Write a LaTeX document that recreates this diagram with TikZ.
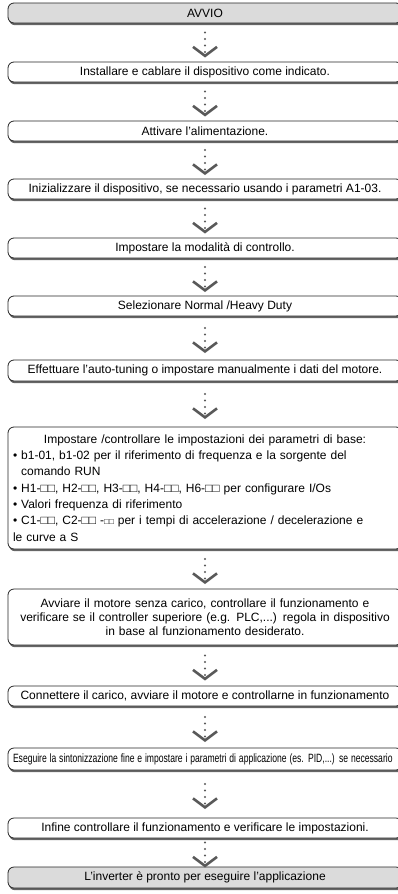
\documentclass[tikz,border=0pt]{standalone}
\usepackage{fontspec}
\usepackage{graphicx}
\setmainfont{Liberation Sans}
\usetikzlibrary{arrows.meta,shadows,calc}

% dotted link with chevron, centred in the gap between two boxes
\newcommand{\flowlink}[2]{%
  \path (#1.south) -- (#2.north) coordinate[pos=.5] (#1-#2);
  \draw[flow] ([yshift=10pt]#1-#2) -- ([yshift=-15pt]#1-#2);}

\begin{document}
\begin{tikzpicture}[x=1pt,y=-1pt,
  box/.style={draw=black!85, line width=0.8pt, rounded corners=6pt, fill=white,
    minimum width=394pt, minimum height=20pt, inner xsep=5pt, inner ysep=2pt,
    font=\fontsize{12}{14}\selectfont,
    drop shadow={shadow xshift=1pt, shadow yshift=-2.2pt, opacity=1, fill=black!60}},
  endbox/.style={box, fill=black!14},
  flow/.style={draw=black!65, line width=2.2pt, line cap=round,
    dash pattern=on 0pt off 6.5pt,
    -{Straight Barb[length=9pt,width=24pt,line width=2.6pt]}}
]
\useasboundingbox (0,0) rectangle (398,894);

\node[endbox] (avvio) at (205,13) {AVVIO};
\node[box] (install) at (205,72) {Installare e cablare il dispositivo come indicato.};
\node[box] (attiva) at (205,131) {Attivare l'alimentazione.};
\node[box] (inizial) at (205,189) {Inizializzare il dispositivo, se necessario usando i parametri A1-03.};
\node[box] (modal) at (205,248) {Impostare la modalità di controllo.};
\node[box] (duty) at (205,306) {Selezionare Normal /Heavy Duty};
\node[box, minimum height=21pt] (tuning) at (205,370.5) {Effettuare l'auto-tuning o impostare manualmente i dati del motore.};
\node[box, minimum height=122pt, text width=384pt, align=left,
  font=\fontsize{12}{16.3}\selectfont] (param) at (205,488)
  {\makebox[384pt][c]{Impostare /controllare le impostazioni dei parametri di base:}\\
   • b1-01, b1-02 per il riferimento di frequenza e la sorgente del\\
   \hphantom{• }comando RUN\\
   • H1-□□, H2-□□, H3-□□, H4-□□, H6-□□ per configurare I/Os\\
   • Valori frequenza di riferimento\\
   • C1-□□, C2-□□ -{\footnotesize □□} per i tempi di accelerazione / decelerazione e\\
   le curve a S};
\node[box, minimum height=56pt, text width=384pt, align=center] (avvia) at (205,617)
  {Avviare il motore senza carico, controllare il funzionamento e\\
   verificare se il controller superiore (e.g. PLC,...) regola in dispositivo\\
   in base al funzionamento desiderato.};
\node[box] (carico) at (205,696) {Connettere il carico, avviare il motore e controllarne in funzionamento};
\node[box, minimum height=22pt, text width=384pt, align=left] (fine) at (205,759)
  {\scalebox{0.715}[1]{Eseguire la sintonizzazione fine e impostare i parametri di applicazione (es. PID,...) se necessario}};
\node[box] (verifica) at (205,828) {Infine controllare il funzionamento e verificare le impostazioni.};
\node[endbox, minimum height=21pt] (pronto) at (205,877.5) {L'inverter è pronto per eseguire l'applicazione};

\flowlink{avvio}{install}
\flowlink{install}{attiva}
\flowlink{attiva}{inizial}
\flowlink{inizial}{modal}
\flowlink{modal}{duty}
\flowlink{duty}{tuning}
\flowlink{tuning}{param}
\flowlink{param}{avvia}
\flowlink{avvia}{carico}
\flowlink{carico}{fine}
\flowlink{fine}{verifica}
\flowlink{verifica}{pronto}
\end{tikzpicture}
\end{document}
